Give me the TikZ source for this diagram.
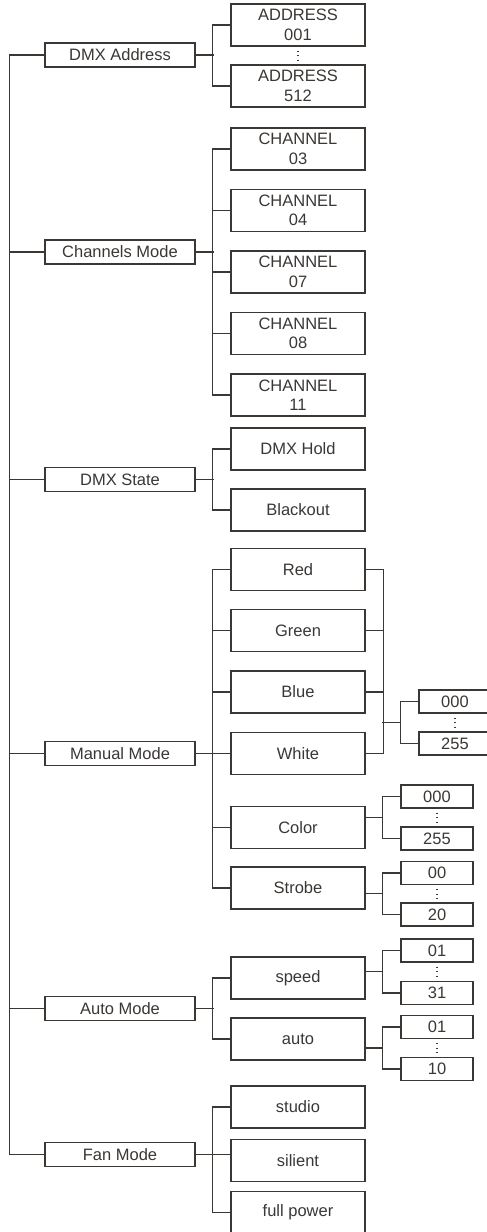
\documentclass[tikz,border=0pt]{standalone}
\usepackage{fontspec}
\setmainfont{Liberation Sans}
\usetikzlibrary{calc}
\definecolor{linegray}{RGB}{58,55,53}

\tikzset{
  lvlone/.style={draw, minimum width=150pt, minimum height=24pt, inner sep=0pt},
  lvltwo/.style={draw, minimum width=134pt, minimum height=42pt, inner sep=0pt, align=center},
  lvlthree/.style={draw, minimum width=72pt, minimum height=23pt, inner sep=0pt},
  dots/.style={line width=1.3pt, dash pattern=on 1.3pt off 3.2pt}
}

\begin{document}
\begin{tikzpicture}[x=1pt, y=-1pt, line width=1.2pt, color=linegray,
    font=\fontsize{16.5}{19.5}\selectfont]
      \useasboundingbox (0,0) rectangle (487,1232);

      % main menu
      \node[lvlone] (dmx) at (120,55) {DMX Address};
      \node[lvlone] (channels) at (120,252) {Channels Mode};
      \node[lvlone] (state) at (120,479.5) {DMX State};
      \node[lvlone] (manual) at (120,753.5) {Manual Mode};
      \node[lvlone] (automode) at (120,1008.5) {Auto Mode};
      \node[lvlone] (fan) at (120,1154.5) {Fan Mode};
      \draw (dmx.west) -- ++(-35,0) |- (fan.west);
      \foreach \n in {channels,state,manual,automode} \draw (\n.west) -- ++(-35,0);

      % dmx address
      \node[lvltwo] (addr001) at (298,25) {ADDRESS\\001};
      \node[lvltwo] (addr512) at (298,86) {ADDRESS\\512};
      \draw (addr001.west) -- ++(-18,0) |- (addr512.west);
      \draw (dmx.east) -- ++(18,0);
      \draw[dots] ([yshift=-4pt]addr001.south) -- ([yshift=4pt]addr512.north);

      % channels
      \foreach \c/\y in {03/149, 04/210.5, 07/272, 08/333.5, 11/395}
        \node[lvltwo] (ch\c) at (298,\y) {CHANNEL\\\c};
      \draw (ch03.west) -- ++(-18,0) |- (ch11.west);
      \foreach \c in {04,07,08} \draw (ch\c.west) -- ++(-18,0);
      \draw (channels.east) -- ++(18,0);

      % dmx state
      \node[lvltwo] (hold) at (298,449) {DMX Hold};
      \node[lvltwo] (blackout) at (298,510) {Blackout};
      \draw (hold.west) -- ++(-18,0) |- (blackout.west);
      \draw (state.east) -- ++(18,0);

      % manual mode
      \foreach \n/\t/\y in {red/Red/569.5, green/Green/630.5, blue/Blue/692,
          white/White/753.5, color/Color/827.5, strobe/Strobe/888}
        \node[lvltwo] (\n) at (298,\y) {\t};
      \draw (red.west) -- ++(-18,0) |- (strobe.west);
      \foreach \n in {green,blue,color} \draw (\n.west) -- ++(-18,0);
      \draw (manual.east) -- (white.west);
      \draw (red.east) -- ++(18,0) |- (white.east);
      \foreach \n in {green,blue} \draw (\n.east) -- ++(18,0);

      % auto mode
      \node[lvltwo] (speed) at (298,978) {speed};
      \node[lvltwo] (autorun) at (298,1039) {auto};
      \draw (speed.west) -- ++(-18,0) |- (autorun.west);
      \draw (automode.east) -- ++(18,0);

      % fan mode
      \node[lvltwo] (studio) at (298,1107) {studio};
      \node[lvltwo] (silient) at (298,1160.5) {silient};
      \node[lvltwo] (fullpower) at (298,1212.5) {full power};
      \draw (studio.west) -- ++(-18,0) |- (fullpower.west);
      \draw (fan.east) -- (fan.east -| silient.west);

      % values
      \node[lvlthree] (white000) at (455,701.5) {000};
      \node[lvlthree] (white255) at (455,743.5) {255};
      \node[lvlthree] (color000) at (437,796.5) {000};
      \node[lvlthree] (color255) at (437,838.5) {255};
      \node[lvlthree] (strobe00) at (437,873) {00};
      \node[lvlthree] (strobe20) at (437,914.5) {20};
      \node[lvlthree] (speed01) at (437,950.5) {01};
      \node[lvlthree] (speed31) at (437,993) {31};
      \node[lvlthree] (autorun01) at (437,1027) {01};
      \node[lvlthree] (autorun10) at (437,1069) {10};

      \draw (white000.west) -- ++(-18,0) |- (white255.west);
      \path ($(white000.west)!.5!(white255.west)$) ++(-18,0) coordinate (whitejoin);
      \draw (whitejoin) -- ++(-18,0);
      \draw[dots] ([yshift=-4pt]white000.south) -- ([yshift=4pt]white255.north);

      \foreach \p/\a/\b in {color/color000/color255, strobe/strobe00/strobe20,
          speed/speed01/speed31, autorun/autorun01/autorun10} {
        \draw (\a.west) -- ++(-18,0) |- (\b.west);
        \path ($(\a.west)!.5!(\b.west)$) ++(-18,0) coordinate (join);
        \draw (\p.east |- join) -- (join);
        \draw[dots] ([yshift=-4pt]\a.south) -- ([yshift=4pt]\b.north);
      }
    \end{tikzpicture}
\end{document}
